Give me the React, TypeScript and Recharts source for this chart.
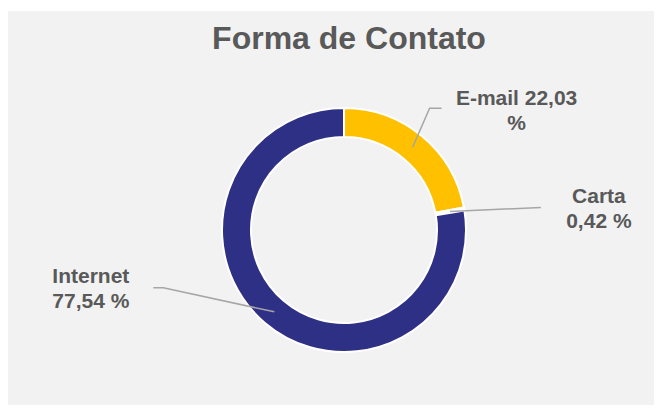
import React from "react";
import { PieChart, Pie, Cell } from "recharts";

const categories = ["E-mail", "Carta", "Internet"];
const values = [22.03, 0.42, 77.54];
const sliceColors = ["#FFC000", "#FFFFFF", "#2E3085"];
const titleText = "Forma de Contato";

const data = categories.map((name, i) => ({ name, value: values[i] }));

const fmt = (v: number) => v.toFixed(2).replace(".", ",");

// label layout relative to the anchor point on the ring (positions/styles only)
const labelLayout = [
  { line: [[0, 0], [17, -39], [29, -39]], tx: 104, ty: -42, anchor: "middle", split: "value%" },
  { line: [[0, 0], [91, -4]], tx: 149, ty: -8, anchor: "middle", split: "name" },
  { line: [[0, 0], [-111, -24], [-121, -24]], tx: -222, ty: -29, anchor: "start", split: "name" },
];

const RADIAN = Math.PI / 180;

const renderLabel = (props: any) => {
  const { cx, cy, midAngle, innerRadius, outerRadius, index, name, value } = props;
  const r = (innerRadius + outerRadius) / 2;
  const ax = cx + r * Math.cos(-midAngle * RADIAN);
  const ay = cy + r * Math.sin(-midAngle * RADIAN);
  const L = labelLayout[index];
  const pts = L.line.map(([dx, dy]) => `${ax + dx},${ay + dy}`).join(" ");
  let l1: string, l2: string;
  if (L.split === "value%") {
    l1 = `${name} ${fmt(value)}`;
    l2 = "%";
  } else {
    l1 = name;
    l2 = `${fmt(value)} %`;
  }
  return (
    <g key={`lbl-${index}`}>
      <polyline points={pts} fill="none" stroke="#A6A6A6" strokeWidth={1.5} />
      <text
        x={ax + L.tx}
        y={ay + L.ty}
        textAnchor={L.anchor as any}
        fill="#595959"
        fontFamily="'Liberation Sans', Arial, sans-serif"
        fontWeight="bold"
        fontSize={21}
      >
        <tspan x={ax + L.tx} dy={0}>{l1}</tspan>
        <tspan x={ax + L.tx} dy={25}>{l2}</tspan>
      </text>
    </g>
  );
};

export default function App() {
  const W = 654;
  const H = 397;
  return (
    <div style={{ position: "relative", top: 3, width: W, height: H, background: "#F2F2F2" }}>
      <svg width={W} height={H} style={{ position: "absolute", left: 0, top: 0 }}>
        <text
          x={341}
          y={38}
          textAnchor="middle"
          fill="#595959"
          fontFamily="'Liberation Sans', Arial, sans-serif"
          fontWeight="bold"
          fontSize={32}
        >
          {titleText}
        </text>
      </svg>
      <div style={{ position: "absolute", left: 0, top: 0 }}>
        <PieChart width={W} height={H} margin={{ top: 0, right: 0, bottom: 0, left: 0 }}>
          <Pie
            data={data}
            dataKey="value"
            nameKey="name"
            cx={336}
            cy={219}
            innerRadius={93}
            outerRadius={122}
            startAngle={90}
            endAngle={-270}
            stroke="#FFFFFF"
            strokeWidth={2}
            label={renderLabel}
            labelLine={false}
            isAnimationActive={false}
          >
            {data.map((d, i) => (
              <Cell key={d.name} fill={sliceColors[i]} />
            ))}
          </Pie>
        </PieChart>
      </div>
    </div>
  );
}
